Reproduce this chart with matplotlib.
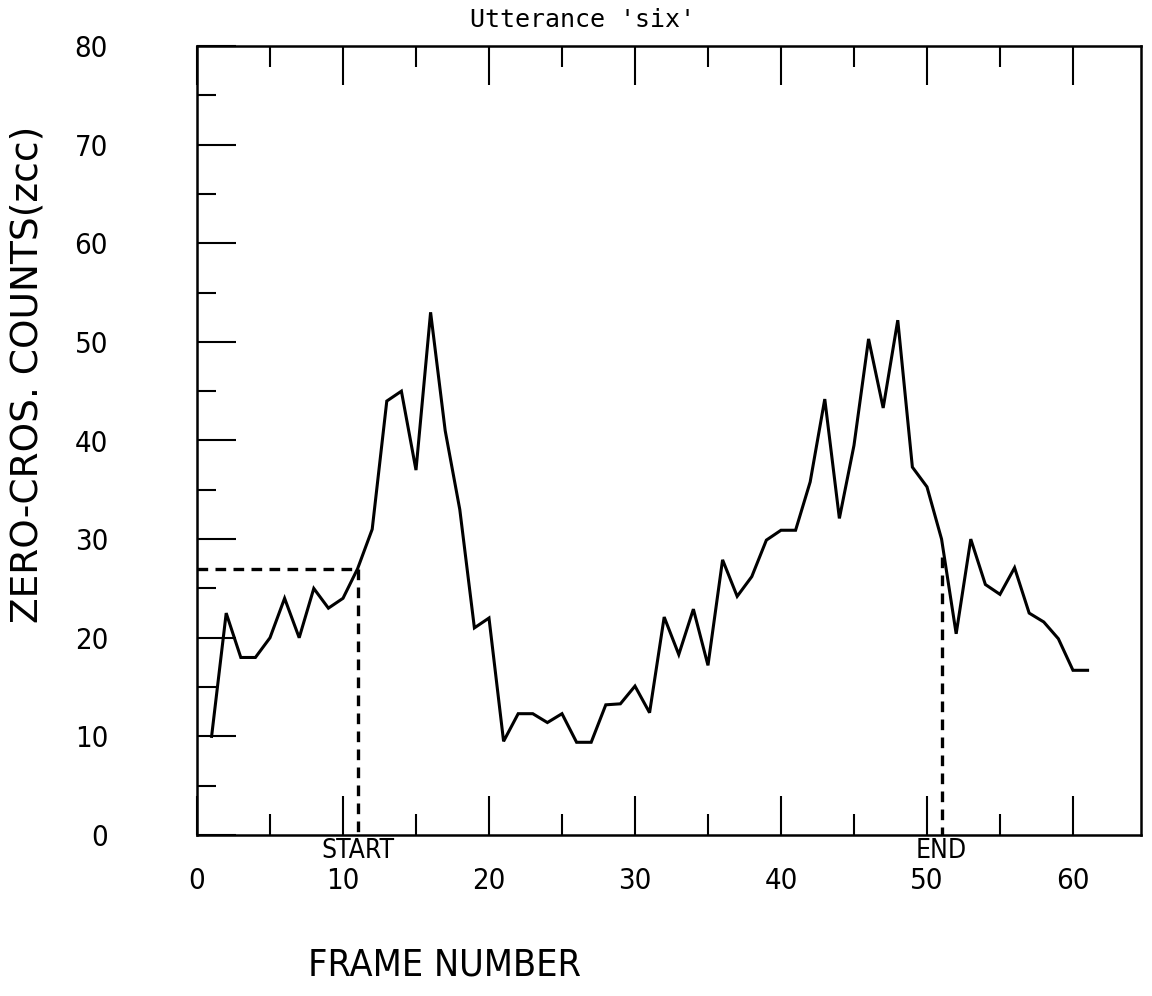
import matplotlib
matplotlib.use("Agg")
import matplotlib.pyplot as plt
from matplotlib.ticker import MultipleLocator

# Zero-crossing counts per analysis frame for the spoken word "six"
frames = list(range(1, 62))
zcc = [10, 22.5, 18, 18, 20, 24, 20, 25, 23, 24,
       27, 31, 44, 45, 37, 53, 41, 33, 21, 22,
       9.5, 12.3, 12.3, 11.4, 12.3, 9.4, 9.4, 13.2, 13.3, 15.1,
       12.4, 22.1, 18.3, 22.9, 17.2, 27.9, 24.2, 26.2, 29.9, 30.9,
       30.9, 35.8, 44.2, 32.1, 39.5, 50.3, 43.3, 52.2, 37.3, 35.3,
       30, 20.4, 30, 25.4, 24.4, 27.1, 22.5, 21.6, 19.9, 16.7, 16.7]

# Endpoint detection: threshold level and the detected start / end frames
threshold = 27
start_frame = 11
end_frame = 51
end_level = 28.2

x_ticks = [0, 10, 20, 30, 40, 50, 60]
y_ticks = [0, 10, 20, 30, 40, 50, 60, 70, 80]

W, H = 1152, 996
fig = plt.figure(figsize=(W / 100, H / 100), dpi=100)
ax = fig.add_axes([197 / W, 1 - 835 / H, (1141 - 197) / W, (835 - 46) / H])

ax.plot(frames, zcc, color="black", lw=2.2, solid_joinstyle="miter")

dash = dict(color="black", lw=2.4, linestyle=(0, (3.2, 2.2)))
ax.plot([0, start_frame], [threshold, threshold], **dash)
ax.plot([start_frame, start_frame], [threshold, 0], **dash)
ax.plot([end_frame, end_frame], [end_level, 0], **dash)

ax.set_xlim(0, 64.66)
ax.set_ylim(0, 80)

for s in ax.spines.values():
    s.set_linewidth(1.8)

ax.xaxis.set_minor_locator(MultipleLocator(5))
ax.yaxis.set_minor_locator(MultipleLocator(5))
ax.set_xticks(x_ticks)
ax.set_yticks(y_ticks)

tick_font = dict(family="DejaVu Sans", size=21, stretch="condensed")
ax.tick_params(which="both", direction="in", top=True, right=False,
               bottom=True, left=True, width=1.5)
ax.tick_params(axis="x", which="major", length=28, pad=23)
ax.tick_params(axis="x", which="minor", length=15)
ax.tick_params(axis="y", which="major", length=28, pad=64)
ax.tick_params(axis="y", which="minor", length=14)
ax.set_xticklabels([str(v) for v in x_ticks], fontdict=tick_font)
ax.set_yticklabels([str(v) for v in y_ticks], fontdict=tick_font)

ax.text(start_frame, -0.3, "START", ha="center", va="top", fontsize=19,
        family="DejaVu Sans", stretch="condensed", clip_on=False)
ax.text(end_frame, -0.3, "END", ha="center", va="top", fontsize=19,
        family="DejaVu Sans", stretch="condensed", clip_on=False)

fig.text(583 / W, 1 - 20 / H, "Utterance 'six'", ha="center", va="center",
         fontsize=18, family="DejaVu Sans Mono")
fig.text(28 / W, 1 - 374 / H, "ZERO-CROS. COUNTS(zcc)", rotation=90,
         ha="center", va="center", fontsize=27, family="DejaVu Sans")
fig.text(445 / W, 1 - 965 / H, "FRAME NUMBER", ha="center", va="center",
         fontsize=27, family="DejaVu Sans", stretch="condensed")

fig.savefig("out.png", dpi=100, facecolor="white")
